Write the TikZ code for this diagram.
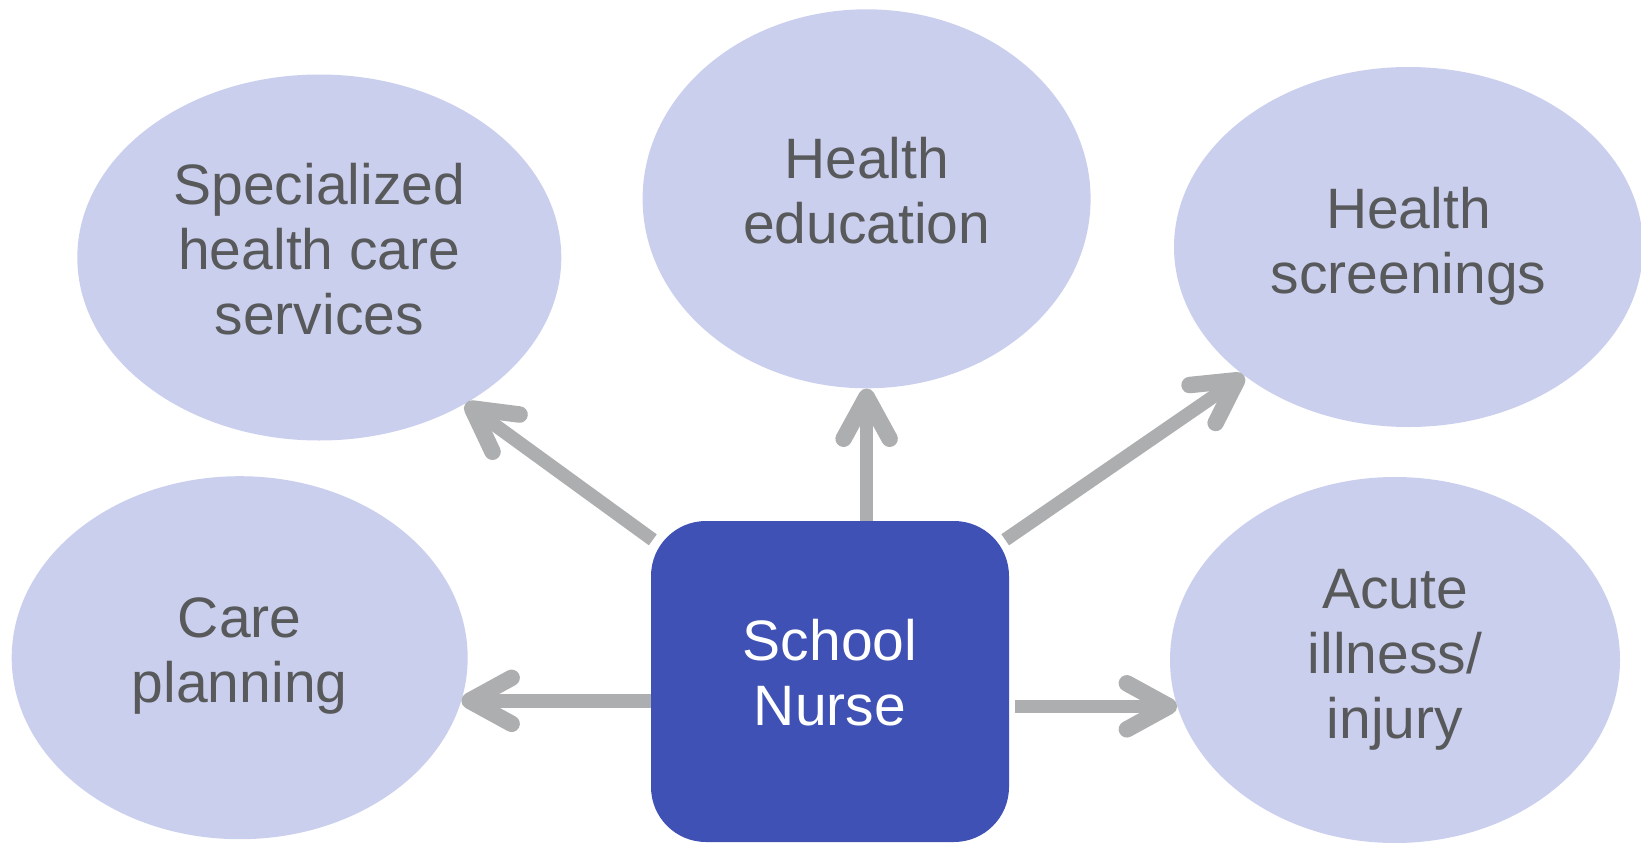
\documentclass[tikz,border=0pt]{standalone}
\usepackage{fontspec}
\setmainfont{Liberation Sans}
\usepackage{xcolor}
\usepackage{tikz}
\definecolor{lavender}{HTML}{CBCFEE}
\definecolor{nurseblue}{HTML}{3F51B5}
\definecolor{arrowgray}{HTML}{ADAEB0}
\definecolor{labelgray}{HTML}{58595B}
\usetikzlibrary{shapes.geometric, arrows.meta}

\begin{document}
\begin{tikzpicture}[x=1pt, y=-1pt,
	every node/.style={font=\fontsize{57}{65}\selectfont},
	topic/.style={draw=none, ellipse, fill=lavender, inner sep=0pt},
	tag/.style={text=labelgray, align=center, inner sep=0pt},
	link/.style={draw=arrowgray, line width=13.5pt, -{Straight Barb[length=42pt, width=46pt, line width=3pt 1, round]}}]

	\useasboundingbox (0,0) rectangle (1641,843);

	\node[rectangle, rounded corners=55pt, fill=nurseblue, minimum width=358pt, minimum height=321pt, label={[tag, text=white, yshift=9pt]center:{School\\Nurse}}] (nurse) at (830,681.5) {};

	\node[topic, minimum width=484pt, minimum height=366pt, label={[tag, yshift=8pt]center:{Specialized\\health care\\services}}] (special) at (319.3,257.5) {};

	\node[topic, minimum width=448pt, minimum height=379pt, label={[tag, yshift=8pt]center:{Health\\education}}] (educ) at (866.6,198.8) {};

	\node[topic, minimum width=469pt, minimum height=360pt, label={[tag, yshift=1pt]center:{Health\\screenings}}] (screen) at (1408.5,247) {};

	\node[topic, minimum width=456pt, minimum height=363pt, label={[tag, yshift=2pt]center:{Care\\planning}}] (care) at (239.7,657.7) {};

	\node[topic, minimum width=450pt, minimum height=366pt, label={[tag]center:{Acute\\illness/\\injury}}] (acute) at (1395,660) {};

	\draw[link] ([shift={(2,19)}]nurse.north west) -- (special.-45);

	\draw[link] (educ.south |- nurse.north) -- (educ.south);

	\draw[link] ([shift={(-4,19)}]nurse.north east) -- (screen.218);

	\draw[link] (nurse.west |- care.-11.6) -- (care.-11.6);

	\draw[link, shorten <=6pt] (nurse.east |- acute.192.5) -- (acute.192.5);
\end{tikzpicture}
\end{document}
